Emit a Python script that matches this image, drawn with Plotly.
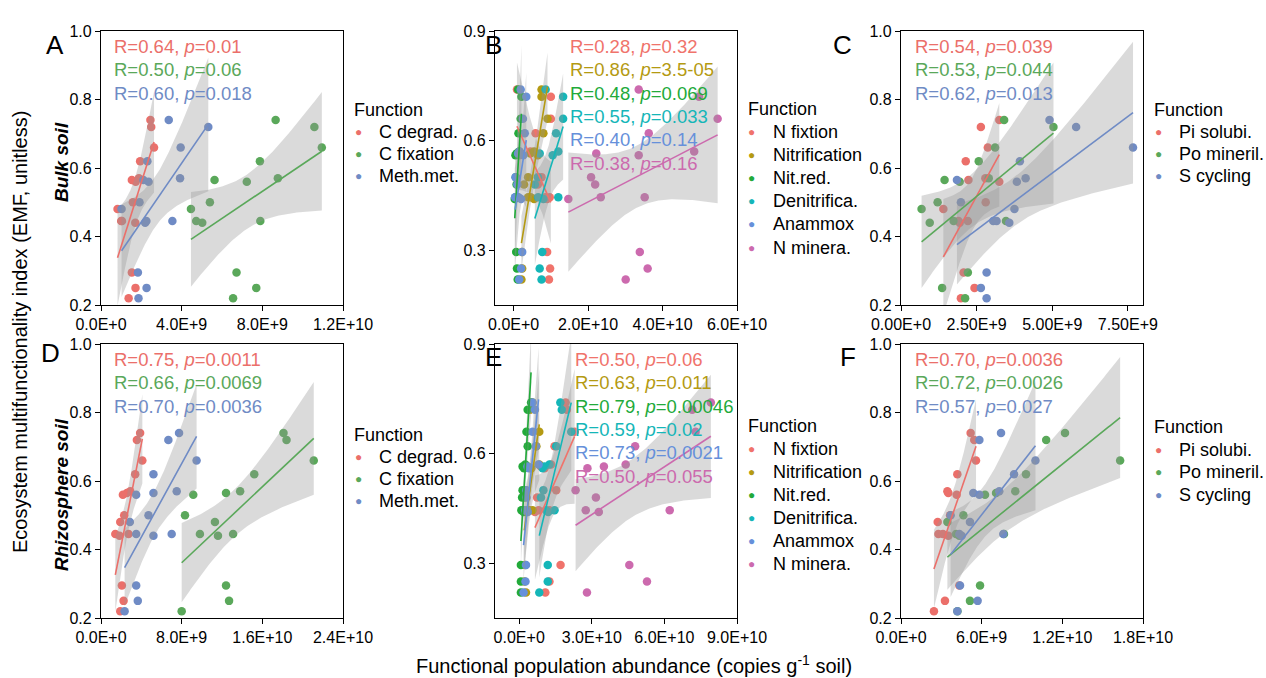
import numpy as np
import plotly.graph_objects as go

W, H = 1266, 678
FONT = "Arial, Liberation Sans, sans-serif"

# ---------------- data ----------------
# EMF of the 15 sites (shared by every function within a soil compartment)
EMF = [0.74, 0.72, 0.66, 0.62, 0.57, 0.565, 0.56, 0.50, 0.48, 0.445, 0.445, 0.44, 0.295, 0.25, 0.22]
UNIT = 1e9  # abundances below are in 1e9 copies g-1 soil

# Panel A - bulk soil, carbon functions
A_c_degrad  = [2.45, 2.49, 2.63, 1.94, 1.88, 1.53, 1.72, 1.58, 0.82, 1.00, 1.04, 1.70, 1.53, 1.71, 1.37]
A_c_fix     = [8.66, 10.58, 10.95, 7.88, 8.77, 5.63, 7.23, 5.40, 4.46, 4.72, 7.90, 5.02, 6.72, 7.70, 6.55]
A_meth      = [3.36, 5.32, 3.95, 2.30, 3.92, 2.10, 2.36, 1.91, 1.02, 2.25, 3.54, 2.19, 1.83, 2.26, 1.86]
# Panel B - bulk soil, nitrogen functions
B_n_fix     = [0.9, 10.0, 10.0, 5.9, 4.5, 2.0, 1.5, 7.5, 6.5, 9.7, 8.5, 9.0, 9.0, 9.8, 9.5]
B_nitrif    = [7.5, 7.5, 9.1, 8.0, 5.5, 4.5, 6.5, 3.9, 2.8, 3.9, 4.6, 5.5, 2.2, 2.3, 2.1]
B_nit_red   = [1.2, 2.1, 1.9, 1.3, 1.5, 0.8, 0.5, 0.6, 0.8, 0.5, 1.0, 0.3, 0.7, 0.9, 1.1]
B_denit     = [8.6, 13.3, 13.3, 11.4, 12.0, 7.0, 10.5, 6.5, 5.7, 6.6, 12.0, 8.0, 7.7, 7.0, 7.5]
B_anammox   = [1.9, 3.4, 2.5, 3.0, 1.6, 1.2, 2.6, 0.5, 1.0, 1.3, 0.4, 2.0, 2.3, 2.0, 1.5]
B_n_miner   = [33.6, 49.8, 54.8, 36.3, 48.5, 22.2, 33.6, 20.8, 21.9, 23.4, 35.2, 14.7, 33.9, 36.0, 30.1]
# Panel C - bulk soil, P and S functions
C_pi_sol    = [3.25, 2.64, 2.87, 2.14, 2.79, 2.23, 3.25, 2.80, 1.40, 1.90, 2.21, 1.94, 2.07, 2.43, 1.98]
C_po_min    = [3.41, 5.04, 3.11, 2.57, 2.90, 1.44, 1.94, 1.21, 0.68, 1.74, 3.47, 0.95, 2.21, 1.36, 2.12]
C_s_cyc     = [4.91, 5.79, 7.67, 3.93, 4.12, 1.85, 3.83, 1.98, 3.75, 3.05, 3.16, 3.58, 2.83, 2.64, 2.83]
# Panel D - rhizosphere soil, carbon functions
D_c_degrad  = [3.88, 3.56, 4.10, 3.39, 2.90, 2.57, 2.17, 2.30, 1.91, 1.42, 2.73, 1.84, 2.07, 2.24, 1.91]
D_c_fix     = [18.1, 18.4, 21.1, 15.2, 13.8, 12.4, 9.15, 8.33, 11.3, 9.81, 13.1, 11.6, 12.4, 12.7, 8.0]
D_meth      = [7.74, 6.68, 9.48, 5.20, 7.51, 5.20, 3.49, 4.71, 2.86, 3.49, 7.01, 5.20, 3.49, 3.65, 2.34]
# Panel E - rhizosphere soil, nitrogen functions
E_n_fix     = [19.2, 19.7, 22.9, 14.6, 13.2, 9.0, 10.5, 15.3, 7.4, 12.5, 8.0, 6.5, 17.1, 12.5, 10.8]
E_nitrif    = [5.5, 4.5, 8.3, 7.1, 8.3, 3.5, 5.0, 2.5, 2.1, 4.2, 5.5, 3.0, 2.5, 2.2, 2.8]
E_nit_red   = [4.9, 3.5, 3.0, 3.5, 2.5, 1.4, 2.0, 1.4, 1.2, 1.4, 0.9, 1.8, 0.7, 0.7, 0.7]
E_denit     = [17.0, 17.6, 21.5, 15.3, 12.5, 10.4, 9.7, 10.0, 9.0, 11.1, 14.6, 12.0, 11.8, 11.8, 8.3]
E_anammox   = [5.5, 6.5, 5.5, 6.9, 8.0, 3.4, 4.0, 3.0, 3.0, 3.2, 2.5, 3.5, 2.8, 2.6, 1.8]
E_n_miner   = [79.2, 71.5, 72.9, 47.9, 44.0, 35.0, 28.2, 23.3, 31.7, 27.5, 62.2, 32.9, 45.5, 52.8, 28.0]
# Panel F - rhizosphere soil, P and S functions
F_pi_sol    = [5.18, 5.45, 5.58, 4.19, 3.45, 3.52, 4.14, 3.65, 2.73, 2.78, 3.12, 3.52, 4.34, 3.27, 2.45]
F_po_min    = [12.2, 10.8, 16.3, 9.30, 8.50, 7.07, 6.25, 4.64, 3.45, 4.09, 7.66, 4.34, 5.88, 5.13, 4.20]
F_s_cyc     = [7.44, 5.83, 10.0, 8.41, 7.31, 5.38, 5.83, 3.69, 5.13, 4.34, 7.61, 4.51, 4.39, 5.70, 4.19]

NAMES_C  = ["C degrad.", "C fixation", "Meth.met."]
NAMES_N  = ["N fixtion", "Nitrification", "Nit.red.", "Denitrifica.", "Anammox", "N minera."]
NAMES_PS = ["Pi solubi.", "Po mineril.", "S cycling"]

STATS = {
    "A": ["R=0.64, <i>p</i>=0.01", "R=0.50, <i>p</i>=0.06", "R=0.60, <i>p</i>=0.018"],
    "B": ["R=0.28, <i>p</i>=0.32", "R=0.86, <i>p</i>=3.5-05", "R=0.48, <i>p</i>=0.069",
          "R=0.55, <i>p</i>=0.033", "R=0.40, <i>p</i>=0.14", "R=0.38, <i>p</i>=0.16"],
    "C": ["R=0.54, <i>p</i>=0.039", "R=0.53, <i>p</i>=0.044", "R=0.62, <i>p</i>=0.013"],
    "D": ["R=0.75, <i>p</i>=0.0011", "R=0.66, <i>p</i>=0.0069", "R=0.70, <i>p</i>=0.0036"],
    "E": ["R=0.50, <i>p</i>=0.06", "R=0.63, <i>p</i>=0.011", "R=0.79, <i>p</i>=0.00046",
          "R=0.59, <i>p</i>=0.02", "R=0.73, <i>p</i>=0.0021", "R=0.50, <i>p</i>=0.055"],
    "F": ["R=0.70, <i>p</i>=0.0036", "R=0.72, <i>p</i>=0.0026", "R=0.57, <i>p</i>=0.027"],
}

XTICKS = {
    "A": ([0, 4e9, 8e9, 1.2e10], ["0.0E+0", "4.0E+9", "8.0E+9", "1.2E+10"]),
    "B": ([0, 2e10, 4e10, 6e10], ["0.0E+0", "2.0E+10", "4.0E+10", "6.0E+10"]),
    "C": ([0, 2.5e9, 5e9, 7.5e9], ["0.00E+0", "2.50E+9", "5.00E+9", "7.50E+9"]),
    "D": ([0, 8e9, 1.6e10, 2.4e10], ["0.0E+0", "8.0E+9", "1.6E+10", "2.4E+10"]),
    "E": ([0, 3e10, 6e10, 9e10], ["0.0E+0", "3.0E+10", "6.0E+10", "9.0E+10"]),
    "F": ([0, 6e9, 1.2e10, 1.8e10], ["0.0E+0", "6.0E+9", "1.2E+10", "1.8E+10"]),
}
YTICKS_1 = ([0.2, 0.4, 0.6, 0.8, 1.0], ["0.2", "0.4", "0.6", "0.8", "1.0"])
YTICKS_2 = ([0.3, 0.6, 0.9], ["0.3", "0.6", "0.9"])

# ---------------- styling ----------------
COL3 = ["#EB6F6A", "#5AA85A", "#6F8BC5"]
COL6 = ["#F0736B", "#B49A12", "#22AA3A", "#15B6B8", "#6690DA", "#CC6AAE"]

px2x = lambda p: p / W
px2y = lambda p: 1 - p / H

COLS = [(101, 343), (495, 737), (901, 1143)]
ROWS = [(31, 305), (344, 618)]

panels = [
    ("A", 0, 0, [A_c_degrad, A_c_fix, A_meth], NAMES_C, COL3, [0, 1.2e10], "1", 112, 46.5),
    ("B", 0, 1, [B_n_fix, B_nitrif, B_nit_red, B_denit, B_anammox, B_n_miner], NAMES_N, COL6, [-5e9, 6e10], "2", 568, 46.5),
    ("C", 0, 2, [C_pi_sol, C_po_min, C_s_cyc], NAMES_PS, COL3, [0, 8e9], "1", 913, 46.5),
    ("D", 1, 0, [D_c_degrad, D_c_fix, D_meth], NAMES_C, COL3, [0, 2.4e10], "1", 112, 359.5),
    ("E", 1, 1, [E_n_fix, E_nitrif, E_nit_red, E_denit, E_anammox, E_n_miner], NAMES_N, COL6, [-1e10, 9e10], "2", 573, 359.5),
    ("F", 1, 2, [F_pi_sol, F_po_min, F_s_cyc], NAMES_PS, COL3, [0, 1.8e10], "1", 913, 359.5),
]
# legend title centre (px) and row spacing
LEG_TITLE_Y = {"A": 110, "B": 108.5, "C": 110, "D": 435, "E": 426, "F": 427}
LEG_GAP = {"A": 22, "B": 23.2, "C": 22, "D": 22, "E": 23.0, "F": 22.5}
LINE_GAP = 23.3
LETTERS = {"A": (55, 45), "B": (493, 45), "C": (842, 45),
           "D": (50, 353), "E": (493, 357), "F": (848, 357)}

T975 = 2.160  # Student t quantile, df = 13


def fit_band(x, y):
    x = np.asarray(x, float)
    y = np.asarray(y, float)
    n = len(x)
    b, a = np.polyfit(x, y, 1)
    xs = np.linspace(x.min(), x.max(), 120)
    yh = a + b * xs
    resid = y - (a + b * x)
    s = np.sqrt(np.sum(resid ** 2) / (n - 2))
    sxx = np.sum((x - x.mean()) ** 2)
    se = s * np.sqrt(1.0 / n + (xs - x.mean()) ** 2 / sxx)
    return xs, yh, yh - T975 * se, yh + T975 * se


fig = go.Figure()
layout = dict(
    width=W, height=H, margin=dict(l=0, r=0, t=0, b=0, autoexpand=False),
    paper_bgcolor="white", plot_bgcolor="white",
    font=dict(family=FONT, color="black"),
    showlegend=False,
)
annotations = []


def txt(text, x, y, size, color="black", xanchor="left", angle=0):
    annotations.append(dict(
        text=text, x=px2x(x), y=px2y(y), xref="paper", yref="paper",
        xanchor=xanchor, yanchor="middle", showarrow=False, textangle=angle,
        font=dict(family=FONT, size=size, color=color)))


for i, (key, r, c, series, names, cols, xr, yk, sx, sy) in enumerate(panels):
    k = i + 1
    xa = "x" if k == 1 else f"x{k}"
    ya = "y" if k == 1 else f"y{k}"
    y_vals, y_txt = YTICKS_1 if yk == "1" else YTICKS_2
    yr = [0.2, 1.0] if yk == "1" else [0.15, 0.9]
    x0, x1 = COLS[c]
    t0, t1 = ROWS[r]
    common = dict(showline=True, linecolor="black", linewidth=1.3, mirror=True,
                  ticks="outside", ticklen=5, tickwidth=1.3, tickcolor="black",
                  showgrid=False, zeroline=False,
                  tickfont=dict(family=FONT, size=16, color="black"))
    layout["xaxis" if k == 1 else f"xaxis{k}"] = dict(
        common, domain=[px2x(x0), px2x(x1)], range=xr, anchor=ya,
        tickvals=XTICKS[key][0], ticktext=XTICKS[key][1])
    layout["yaxis" if k == 1 else f"yaxis{k}"] = dict(
        common, domain=[px2y(t1), px2y(t0)], range=yr, anchor=xa,
        tickvals=y_vals, ticktext=y_txt)

    # points
    for xs_, nm, col in zip(series, names, cols):
        fig.add_trace(go.Scatter(
            x=np.asarray(xs_) * UNIT, y=EMF, mode="markers", name=nm,
            marker=dict(color=col, size=8.5), xaxis=xa, yaxis=ya))
    # confidence bands
    for xs_, col in zip(series, cols):
        xx, yh, lo, hi = fit_band(np.asarray(xs_) * UNIT, EMF)
        fig.add_trace(go.Scatter(
            x=np.concatenate([xx, xx[::-1]]), y=np.concatenate([hi, lo[::-1]]),
            fill="toself", fillcolor="rgba(150,150,150,0.35)", line=dict(width=0),
            mode="lines", hoverinfo="skip", xaxis=xa, yaxis=ya))
    # fitted lines
    for xs_, col in zip(series, cols):
        xx, yh, lo, hi = fit_band(np.asarray(xs_) * UNIT, EMF)
        fig.add_trace(go.Scatter(
            x=xx, y=yh, mode="lines", line=dict(color=col, width=1.6),
            hoverinfo="skip", xaxis=xa, yaxis=ya))

    # statistics text
    for j, (s, col) in enumerate(zip(STATS[key], cols)):
        txt(s, sx, sy + j * LINE_GAP, 18.5, col)

    # legend (title + coloured bullet + label)
    lx = x1 + 9
    ty = LEG_TITLE_Y[key]
    txt("Function", lx, ty, 18)
    for j, (nm, col) in enumerate(zip(names, cols)):
        yy = ty + (j + 1) * LEG_GAP[key]
        txt("\u25CF", lx + 6, yy, 12, col, xanchor="center")
        txt(nm, lx + 25, yy, 18)

    # panel letter
    txt(key, LETTERS[key][0], LETTERS[key][1], 26, xanchor="center")

# global titles
txt("Ecosystem multifunctionality index (EMF, unitless)", 20, 332, 20, xanchor="center", angle=-90)
txt("<b><i>Bulk soil</i></b>", 61, 162, 19, xanchor="center", angle=-90)
txt("<b><i>Rhizosphere soil</i></b>", 61, 495, 19, xanchor="center", angle=-90)
txt("Functional population abundance (copies g<sup>-1</sup> soil)", 634, 664, 20, xanchor="center")

layout["annotations"] = annotations
fig.update_layout(**layout)
fig.write_html("out.html", config={"displayModeBar": False},
               post_script="document.body.style.margin='0px';document.body.style.overflow='hidden';")
